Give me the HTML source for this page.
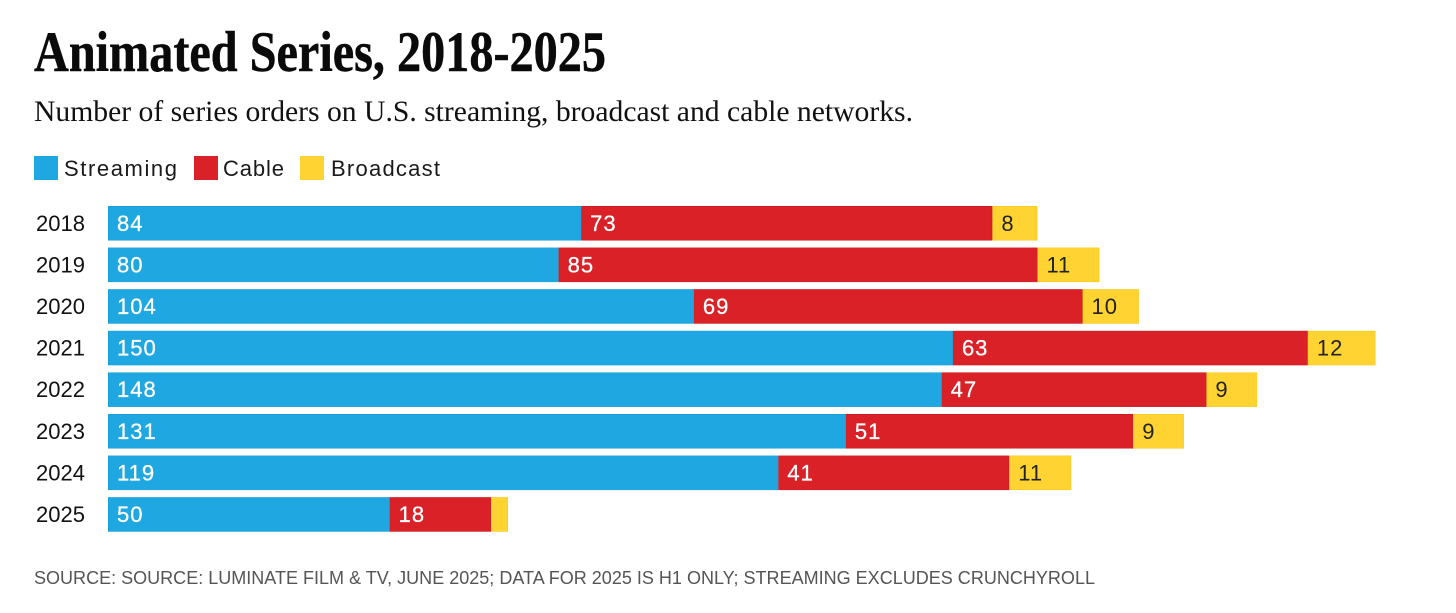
<!DOCTYPE html>
<html lang="en">
<head>
<meta charset="utf-8">
<title>Animated Series, 2018-2025</title>
<style>
html,body{margin:0;padding:0;background:#fff;width:1456px;height:613px;overflow:hidden}
svg{display:block}
.sans{font-family:"Liberation Sans",sans-serif}
.serif{font-family:"Liberation Serif",serif}
</style>
</head>
<body>
<svg id="chart" width="1456" height="613" viewBox="0 0 1456 613" xmlns="http://www.w3.org/2000/svg">
  <rect x="0" y="0" width="1456" height="613" fill="#ffffff"/>
  <text class="serif" x="34" y="71" font-size="57" font-weight="700" fill="#0a0a0a" stroke="#0a0a0a" stroke-width="0.5" textLength="572" lengthAdjust="spacingAndGlyphs">Animated Series, 2018-2025</text>
  <text class="serif" x="34" y="121" font-size="30" fill="#111111" textLength="879" lengthAdjust="spacingAndGlyphs">Number of series orders on U.S. streaming, broadcast and cable networks.</text>

  <rect x="34" y="156" width="24" height="24" fill="#1ea7e0"/>
  <text class="sans" x="64" y="176" font-size="22" fill="#1a1a1a" textLength="113" lengthAdjust="spacing">Streaming</text>
  <rect x="194" y="156" width="24" height="24" fill="#d92127"/>
  <text class="sans" x="223" y="176" font-size="22" fill="#1a1a1a" textLength="61" lengthAdjust="spacing">Cable</text>
  <rect x="300" y="156" width="24" height="24" fill="#ffd332"/>
  <text class="sans" x="331" y="176" font-size="22" fill="#1a1a1a" textLength="109" lengthAdjust="spacing">Broadcast</text>

  <g id="bars"></g>

  <text class="sans" x="34" y="584" font-size="18.5" fill="#555555" textLength="1061" lengthAdjust="spacingAndGlyphs">SOURCE: SOURCE: LUMINATE FILM &amp; TV, JUNE 2025; DATA FOR 2025 IS H1 ONLY; STREAMING EXCLUDES CRUNCHYROLL</text>
</svg>
<script>
const years = ['2018','2019','2020','2021','2022','2023','2024','2025'];
const streaming = [84,80,104,150,148,131,119,50];
const cable = [73,85,69,63,47,51,41,18];
const broadcast = [8,11,10,12,9,9,11,3];
const printedBroadcast = ['8','11','10','12','9','9','11',''];

const xScale = function(v){ return 108 + v * 5.633; };
const yScale = function(i){ return 206 + i * 41.6; };
const barHeight = 34.5;
const svgNS = 'http://www.w3.org/2000/svg';
const group = document.getElementById('bars');

function makeRect(x, y, w, fill, stroke){
  const r = document.createElementNS(svgNS, 'rect');
  r.setAttribute('x', x + 0.25);
  r.setAttribute('y', y + 0.25);
  r.setAttribute('width', Math.max(w - 0.5, 0));
  r.setAttribute('height', barHeight - 0.5);
  r.setAttribute('fill', fill);
  r.setAttribute('stroke', stroke);
  r.setAttribute('stroke-width', '0.5');
  return r;
}
function makeText(x, y, str, fill, spacing){
  const t = document.createElementNS(svgNS, 'text');
  t.setAttribute('x', x);
  t.setAttribute('y', y);
  t.setAttribute('font-size', '22');
  t.setAttribute('class', 'sans');
  t.setAttribute('fill', fill);
  t.setAttribute('letter-spacing', spacing);
  t.textContent = str;
  return t;
}

years.forEach(function(year, i){
  const y = yScale(i);
  const base = y + barHeight / 2 + 7.5;

  const yearLabel = makeText(36, base, year, '#111111', '0');
  
  
  group.appendChild(yearLabel);

  const s0 = xScale(0);
  const s1 = xScale(streaming[i]);
  const c1 = xScale(streaming[i] + cable[i]);
  const b1 = xScale(streaming[i] + cable[i] + broadcast[i]);

  const barS = makeRect(s0, y, s1 - s0, '#1ea7e0', '#1499d2');
  
  
  group.appendChild(barS);

  const barC = makeRect(s1, y, c1 - s1, '#d92127', '#c8141c');
  
  
  group.appendChild(barC);

  const barB = makeRect(c1, y, b1 - c1, '#ffd332', '#fcc60f');
  
  
  group.appendChild(barB);

  const labelS = makeText(s0 + 9, base, String(streaming[i]), '#ffffff', '1');
  
  
  labelS.setAttribute('stroke', '#ffffff');
  labelS.setAttribute('stroke-width', '0.3');
  group.appendChild(labelS);

  const labelC = makeText(s1 + 9, base, String(cable[i]), '#ffffff', '1');
  
  
  labelC.setAttribute('stroke', '#ffffff');
  labelC.setAttribute('stroke-width', '0.3');
  group.appendChild(labelC);

  if (printedBroadcast[i]) {
    const labelB = makeText(c1 + 9, base, printedBroadcast[i], '#222222', '1');
    
    
    group.appendChild(labelB);
  }
});
</script>
</body>
</html>
